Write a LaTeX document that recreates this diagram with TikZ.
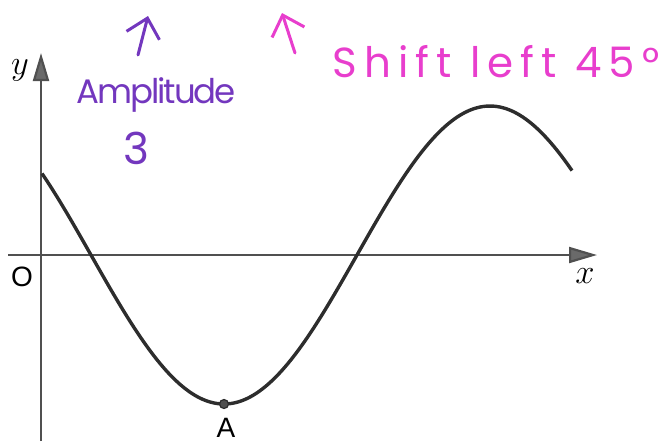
\documentclass[tikz,border=0pt]{standalone}
\usepackage{fontspec}
\usepackage{tikz}
\usetikzlibrary{arrows.meta}
\newfontfamily\handfont{Poppins}
\newfontfamily\labelfont{Liberation Sans}
\definecolor{axisgray}{RGB}{80,80,80}
\definecolor{curvegray}{RGB}{45,45,45}
\definecolor{amppurple}{RGB}{115,55,190}
\definecolor{shiftpink}{RGB}{232,62,205}

\begin{document}
\begin{tikzpicture}[x=0.5pt,y=-0.5pt,
  axis/.style={line width=1.1pt, axisgray, -{Triangle[length=14pt,width=8pt,fill=axisgray!85]}},
  hand/.style={line width=1.5pt, line cap=round, line join=round, -{Straight Barb[length=9pt,width=17pt]}},
  handtext/.style={font=\handfont\fontsize{17}{19}\selectfont\addfontfeature{LetterSpace=-6}, inner sep=0pt},
  axlabel/.style={font=\labelfont\fontsize{14}{16}\selectfont, inner sep=0pt}]
\useasboundingbox (0,0) rectangle (670,441);

% Axes
\draw[axis] (41,441) -- (41,53);
\draw[axis] (8,255) -- (597,255);
\node[font=\fontsize{16}{18}\selectfont, inner sep=0pt] (ylab) at (20,70) {$y$};
\node[font=\fontsize{16}{18}\selectfont, inner sep=0pt] (xlab) at (585,276) {$x$};
\node[axlabel] (origin) at (22,277) {O};

% Curve
\draw[line width=1.7pt, curvegray, domain=42:572, samples=120, smooth, variable=\t]
  plot ({\t}, {255-149*cos((\t-490)/532*360)});

% Minimum point A
\fill[axisgray, draw=curvegray, line width=0.6pt] (224,404) circle (4.5);
\node[axlabel] (ptA) at (226,428) {A};

% Handwritten notes
\node[handtext, amppurple] (amp) at (156,95) {Amplitude};
\node[handtext, amppurple, font=\handfont\fontsize{22}{24}\selectfont] (three) at (136,148) {3};
\coordinate (ampfoot) at (138,55);
\coordinate (amptip) at (148,16);
\draw[hand, amppurple] (ampfoot) -- (amptip);

\node[handtext, shiftpink, font=\handfont\fontsize{21}{23}\selectfont\addfontfeature{LetterSpace=17}] (shift) at (496,62) {Shift left 45°};
\coordinate (shiftfoot) at (295,53);
\coordinate (shifttip) at (282,13);
\draw[hand, shiftpink] (shiftfoot) -- (shifttip);
\end{tikzpicture}
\end{document}
